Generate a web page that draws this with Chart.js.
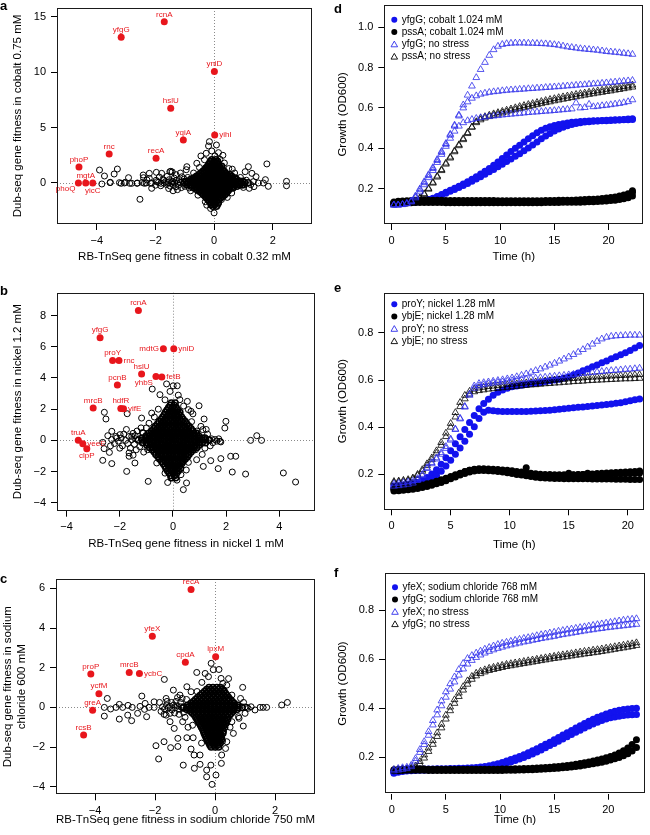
<!DOCTYPE html>
<html><head><meta charset="utf-8">
<script src="https://cdn.jsdelivr.net/npm/chart.js@4.4.1/dist/chart.umd.min.js"></script>
<style>
html,body{margin:0;padding:0;background:#fff}
#wrap{position:relative;width:650px;height:835px;overflow:hidden;background:#fff}
canvas{position:absolute}
.pl{position:absolute;font:bold 13px "Liberation Sans",Arial,sans-serif;line-height:13px;color:#000}
</style></head><body>
<div id="wrap">
<canvas id="cA" width="325" height="270" style="left:0;top:0"></canvas>
<canvas id="cB" width="325" height="285" style="left:0;top:270px"></canvas>
<canvas id="cC" width="325" height="280" style="left:0;top:555px"></canvas>
<canvas id="cD" width="325" height="270" style="left:325px;top:0"></canvas>
<canvas id="cE" width="325" height="285" style="left:325px;top:270px"></canvas>
<canvas id="cF" width="325" height="280" style="left:325px;top:555px"></canvas>
<div class="pl" style="left:0;top:-1px">a</div>
<div class="pl" style="left:0;top:284px">b</div>
<div class="pl" style="left:0;top:572px">c</div>
<div class="pl" style="left:334px;top:2px">d</div>
<div class="pl" style="left:334px;top:281px">e</div>
<div class="pl" style="left:334px;top:566px">f</div>
</div>
<script>
// ================= DATA =================
// ---- Panel a: cobalt ----
const cobaltHitGenes = ['rcnA','yfgG','yniD','hslU','yqiA','yihI','rnc','recA','phoP','mgtA','phoQ','yicC'];
const cobaltHitX = [-1.70,-3.17,0.01,-1.48,-1.05,0.02,-3.58,-1.98,-4.61,-4.38,-4.63,-4.14];
const cobaltHitY = [14.54,13.16,10.05,6.75,3.88,4.34,2.62,2.23,1.45,0.0,0.0,0.0];
const cobaltOther = [
[-3.91,1.17],[-3.74,0.63],[-3.83,-0.09],[-3.55,0.03],[-3.41,0.81],[-3.30,1.26],[-3.23,0.03],[-3.06,0.0],[-2.92,0.48],[-2.81,-0.03],[-2.62,0.0],[-2.53,-1.47],[-2.41,0.48],[-2.32,0.0],[-2.21,0.87],[-2.21,0.42],[-2.13,0.0],[-2.13,-0.48],[-1.98,0.24],[-1.87,0.54],[-1.79,0.87],[-1.71,0.0],[-2.45,0.05],[-2.0,-0.2],[-1.9,0.05],[-1.82,-0.25],[-2.42,0.72],
[-3.54,0.06],[-3.17,-0.03],[-3.03,0.06],[-2.88,-0.03],[-2.63,-0.03],[-2.38,-0.03],[-2.29,0.27],[-2.17,-0.03],[-1.97,0.96],[-1.95,0.12],[-1.81,-0.03],[-1.72,0.27],[-1.51,1.02],[-1.43,0.12],
[-1.66,0.12],[-1.62,-0.14],[-1.57,0.04],[-1.53,0.3],[-1.5,-0.28],[-1.46,0.0],[-1.42,0.16],[-1.4,-0.12],[-1.36,0.44],[-1.34,0.02],[-1.31,-0.34],[-1.29,0.22],[-1.25,-0.02],[-1.22,-0.2],[-1.19,0.3],[-1.15,0.06],[-1.12,-0.42],[-1.1,0.56],[-1.07,0.16],[-1.05,-0.1],[-1.02,0.36],[-1.0,-0.3],[-1.48,1.05],[-1.43,1.0],[-1.6,0.6],[-1.25,-0.6],[-1.15,0.9],[-0.95,1.2],[-0.93,1.47],[-0.59,1.78],[-1.3,0.75],[-1.55,-0.5],[-1.75,0.3],[-1.4,-0.7],
[0.9,0.5],[1.0,-0.4],[0.7,0.9],[0.6,-0.9],[-0.7,0.9],[-0.8,-0.7],[0.5,1.3],[-0.5,1.4],[0.45,-1.3],[-0.55,-1.1],[1.06,1.02],[1.17,1.47],[1.29,0.87],[1.43,0.57],[1.34,0.12],[1.51,0.0],[1.68,0.0],[1.36,-0.33],[1.2,-0.48],[1.8,1.72],[1.75,0.3],[1.85,-0.3],[2.47,0.15],[2.47,-0.25],
[-0.16,3.73],[0.08,3.43],[-0.19,3.34],[-0.08,2.89],[0.15,2.74],[-0.27,2.68],[0.03,2.44],[0.2,2.14],[-0.33,2.1],[0.3,2.5],[-0.45,2.44],[0.35,1.8],[0.0,-2.7],[0.15,-1.77],[-0.12,-2.3],[0.12,-2.0],[-0.3,-1.69],[0.25,-1.5],[-0.25,-2.0],[0.85,0.2],[1.1,0.25],[-0.9,0.5],[-0.85,-0.45],[0.95,-0.2],[1.25,-0.15],[0.62,1.25],[-0.62,0.25]
];
// dense core of panel a, listed row by row: [y, [x values]]
const cobaltCoreRows = [
[0.02,[-1.0,-0.88,-0.76,-0.64,-0.52,-0.4,-0.28,-0.16,-0.04,0.08,0.2,0.32,0.44,0.56,0.68,0.8,0.92,1.04,1.16]],
[0.15,[-0.94,-0.82,-0.7,-0.58,-0.46,-0.34,-0.22,-0.1,0.02,0.14,0.26,0.38,0.5,0.62,0.74,0.86,0.98]],
[-0.15,[-0.92,-0.8,-0.68,-0.56,-0.44,-0.32,-0.2,-0.08,0.04,0.16,0.28,0.4,0.52,0.64,0.76,0.88,1.0]],
[0.3,[-0.8,-0.68,-0.56,-0.44,-0.32,-0.2,-0.08,0.04,0.16,0.28,0.4,0.52,0.64,0.76]],
[-0.3,[-0.78,-0.66,-0.54,-0.42,-0.3,-0.18,-0.06,0.06,0.18,0.3,0.42,0.54,0.66,0.78]],
[0.45,[-0.7,-0.58,-0.46,-0.34,-0.22,-0.1,0.02,0.14,0.26,0.38,0.5,0.62,0.72]],
[-0.45,[-0.68,-0.56,-0.44,-0.32,-0.2,-0.08,0.04,0.16,0.28,0.4,0.52,0.64]],
[0.6,[-0.6,-0.48,-0.36,-0.24,-0.12,0,0.12,0.24,0.36,0.48,0.6]],
[-0.6,[-0.58,-0.46,-0.34,-0.22,-0.1,0.02,0.14,0.26,0.38,0.5]],
[0.75,[-0.52,-0.4,-0.28,-0.16,-0.04,0.08,0.2,0.32,0.44,0.54]],
[-0.75,[-0.5,-0.38,-0.26,-0.14,-0.02,0.1,0.22,0.34,0.46]],
[0.9,[-0.45,-0.33,-0.21,-0.09,0.03,0.15,0.27,0.39]],
[-0.9,[-0.42,-0.3,-0.18,-0.06,0.06,0.18,0.3,0.42]],
[1.05,[-0.38,-0.26,-0.14,-0.02,0.1,0.22,0.34]],
[-1.05,[-0.36,-0.24,-0.12,0.0,0.12,0.24,0.36]],
[1.2,[-0.32,-0.2,-0.08,0.04,0.16,0.28]],
[-1.2,[-0.3,-0.18,-0.06,0.06,0.18,0.3]],
[1.35,[-0.28,-0.16,-0.04,0.08,0.2]],
[-1.35,[-0.26,-0.14,-0.02,0.1,0.22]],
[1.5,[-0.22,-0.1,0.02,0.14,0.26]],
[-1.5,[-0.2,-0.08,0.04,0.16]],
[1.65,[-0.18,-0.06,0.06,0.16]],
[-1.65,[-0.16,-0.04,0.08]],
[1.8,[-0.14,-0.02,0.1]],
[-1.8,[-0.1,0.02,0.14]],
[1.95,[-0.12,0.0,0.12]],
[-1.95,[-0.1,0.02]],
[2.1,[-0.08,0.06]],
[-2.1,[-0.04,0.08]]
];

// ---- Panel b: nickel ----
const nickelHitGenes = ['rcnA','yfgG','mdtG','yniD','proY','rnc','hslU','yhbS','fetB','pcnB','mrcB','hdfR','yifE','truA','yeeE','clpP'];
const nickelHitX = [-1.30,-2.74,-0.36,0.03,-2.27,-2.03,-1.18,-0.64,-0.42,-2.09,-3.0,-1.96,-1.86,-3.56,-3.39,-3.24];
const nickelHitY = [8.33,6.58,5.88,5.88,5.13,5.13,4.26,4.1,4.06,3.55,2.07,2.05,2.03,0.0,-0.21,-0.53];
const nickelOther = [
[-2.3,0.05],[-2.2,-0.2],[-2.15,0.25],[-2.05,-0.05],[-1.95,0.15],[-1.9,-0.35],[-1.85,0.4],[-1.78,0.0],[-1.7,-0.2],[-1.65,0.25],[-1.6,-0.5],[-1.55,0.05],[-1.5,0.45],[-1.45,-0.25],[-1.4,0.1],[-1.38,-0.6],[-1.35,0.6],[-1.42,0.3],[-2.0,-0.5],[-2.35,-0.35],[-2.45,0.3],[-1.75,0.7],[-1.65,-0.8],[-1.5,-0.95],[-1.2,0.8],[-1.1,-0.75],[-1.25,-0.4],[-1.15,0.5],
[1.45,0.1],[1.5,-0.15],[1.58,0.05],[1.65,-0.05],[1.72,0.1],[1.8,-0.1],[1.4,-0.35],[1.3,0.4],[1.2,-0.5],[1.25,0.7],[1.1,-0.9],[1.05,0.9],
[-2.58,1.8],[-2.52,1.37],[-1.72,1.71],[-2.3,0.58],[-2.64,-0.13],[-2.59,-0.53],[-2.39,-0.77],[-2.3,-1.49],[-2.64,-1.28],[-1.74,-1.99],[-0.93,-2.63],[-1.43,-1.45],[-1.65,-1.02],[-2.12,0.15],[-1.99,0.37],[-1.55,0.26],[-1.12,0.47],[-1.18,1.43],[-0.8,1.75],[-0.78,3.29],[-0.24,3.62],[0.01,3.5],[0.16,3.5],[-0.49,2.93],[-0.11,3.14],[0.26,2.61],[0.54,2.5],[0.58,1.97],[0.98,2.22],[0.68,1.86],[0.75,1.7],[1.17,1.37],[1.12,0.69],[1.99,1.22],[1.95,0.79],[1.33,0.0],[1.77,-0.06],[2.92,0.0],[3.15,0.3],[3.33,0.0],[0.89,-1.24],[1.14,-1.67],[1.42,-1.3],[1.7,-1.81],[2.17,-1.02],[2.36,-1.02],[1.8,-1.17],[2.23,-2.03],[2.73,-2.16],[4.15,-2.09],[4.61,-2.67],[0.39,-3.16],[0.51,-2.73],[-0.08,-2.41],[0.58,-1.41],[0.38,-0.79],[-0.61,-1.45],[-0.5,-0.92],
[-0.9,1.1],[-0.7,1.5],[-0.55,2.0],[0.5,-1.9],[0.3,-2.2],[-0.3,-2.1],[0.7,1.2],[0.85,-0.6],[-0.95,-0.6],[-1.0,0.8],[0.9,0.6],[0.4,2.2],[-0.3,2.6],[0.2,2.9],[-0.2,-2.7],[0.15,-2.55]
];
const nickelCoreRows = [
[0.02,[-1.3,-1.16,-1.02,-0.88,-0.74,-0.6,-0.46,-0.32,-0.18,-0.04,0.1,0.24,0.38,0.52,0.66,0.8,0.94,1.08,1.22,1.36]],
[0.15,[-1.16,-1.02,-0.88,-0.74,-0.6,-0.46,-0.32,-0.18,-0.04,0.1,0.24,0.38,0.52,0.66,0.8,0.94,1.08,1.2]],
[-0.15,[-1.14,-1.0,-0.86,-0.72,-0.58,-0.44,-0.3,-0.16,-0.02,0.12,0.26,0.4,0.54,0.68,0.82,0.96,1.1,1.22]],
[0.3,[-1.0,-0.86,-0.72,-0.58,-0.44,-0.3,-0.16,-0.02,0.12,0.26,0.4,0.54,0.68,0.82,0.96]],
[-0.3,[-0.98,-0.84,-0.7,-0.56,-0.42,-0.28,-0.14,0.0,0.14,0.28,0.42,0.56,0.7,0.84,0.98]],
[0.45,[-0.9,-0.76,-0.62,-0.48,-0.34,-0.2,-0.06,0.08,0.22,0.36,0.5,0.64,0.78,0.88]],
[-0.45,[-0.88,-0.74,-0.6,-0.46,-0.32,-0.18,-0.04,0.1,0.24,0.38,0.52,0.66,0.8,0.9]],
[0.6,[-0.8,-0.66,-0.52,-0.38,-0.24,-0.1,0.04,0.18,0.32,0.46,0.6,0.74]],
[-0.6,[-0.78,-0.64,-0.5,-0.36,-0.22,-0.08,0.06,0.2,0.34,0.48,0.62,0.76]],
[0.75,[-0.72,-0.58,-0.44,-0.3,-0.16,-0.02,0.12,0.26,0.4,0.54,0.68]],
[-0.75,[-0.7,-0.56,-0.42,-0.28,-0.14,0.0,0.14,0.28,0.42,0.56,0.68]],
[0.9,[-0.66,-0.52,-0.38,-0.24,-0.1,0.04,0.18,0.32,0.46,0.6]],
[-0.9,[-0.64,-0.5,-0.36,-0.22,-0.08,0.06,0.2,0.34,0.48,0.6]],
[1.05,[-0.58,-0.44,-0.3,-0.16,-0.02,0.12,0.26,0.4,0.52]],
[-1.05,[-0.56,-0.42,-0.28,-0.14,0.0,0.14,0.28,0.42,0.54]],
[1.2,[-0.52,-0.38,-0.24,-0.1,0.04,0.18,0.32,0.46]],
[-1.2,[-0.5,-0.36,-0.22,-0.08,0.06,0.2,0.34,0.46]],
[1.35,[-0.44,-0.3,-0.16,-0.02,0.12,0.26,0.38]],
[-1.35,[-0.42,-0.28,-0.14,0.0,0.14,0.28,0.38]],
[1.5,[-0.38,-0.24,-0.1,0.04,0.18,0.32]],
[-1.5,[-0.36,-0.22,-0.08,0.06,0.2,0.32]],
[1.65,[-0.32,-0.18,-0.04,0.1,0.22]],
[-1.65,[-0.3,-0.16,-0.02,0.12,0.24]],
[1.8,[-0.28,-0.14,0.0,0.14,0.26]],
[-1.8,[-0.26,-0.12,0.02,0.16,0.28]],
[1.95,[-0.22,-0.08,0.06,0.18]],
[-1.95,[-0.2,-0.06,0.08,0.2]],
[2.1,[-0.16,-0.02,0.12]],
[-2.1,[-0.14,0.0,0.14]],
[2.25,[-0.1,0.04]],
[-2.25,[-0.08,0.06]],
[2.4,[-0.06,0.08]],
[-2.4,[-0.04,0.1]]
];

// ---- Panel c: sodium chloride ----
const saltHitGenes = ['recA','yfeX','cpdA','lpxM','proP','mrcB','ycbC','ycfM','greA','rcsB'];
const saltHitX = [-0.8,-2.09,-0.99,0.02,-4.14,-2.86,-2.52,-3.87,-4.08,-4.38];
const saltHitY = [5.94,3.59,2.27,2.55,1.68,1.76,1.71,0.69,-0.14,-1.39];
const saltOther = [
[-1.75,0.02],[-1.68,-0.08],[-1.62,0.1],[-1.56,-0.03],[-1.5,0.05],[-1.44,-0.12],[-1.38,0.12],[-1.32,-0.02],[-1.26,0.08],[-1.2,-0.1],[-1.14,0.03],[-1.08,-0.05],[-1.6,0.3],[-1.45,0.25],[-1.3,0.3],[-1.15,0.25],[-1.5,-0.3],[-1.35,-0.28],[-1.2,-0.35],[-1.05,-0.25],[-1.7,-0.35],[-1.25,0.5],[-1.1,0.45],[-0.95,0.4],[-1.0,-0.5],[-1.85,0.25],[-1.8,-0.2],
[1.0,0.02],[1.1,-0.05],[1.2,0.03],[1.5,0.0],[1.6,0.0],[1.72,0.0],[0.95,0.25],[1.0,-0.3],[0.85,0.45],[0.8,-0.55],
[-3.59,0.45],[-3.69,0.0],[-3.69,-0.44],[-3.48,-0.08],[-3.19,0.15],[-3.19,-0.59],[-3.08,0.0],[-2.91,-0.39],[-2.78,-0.67],[-2.76,0.0],[-2.58,-0.3],[-2.44,0.57],[-2.33,0.2],[-2.28,-0.47],[-2.2,0.0],[-2.03,0.28],[-2.03,0.0],[-1.97,-1.93],[-1.7,-1.73],[-1.88,-2.6],[-1.48,-2.03],[-1.24,-1.56],[-1.24,-1.97],[-1.06,-2.91],[-0.69,-3.07],[-0.5,-2.87],[-0.28,-3.16],[-0.14,-2.91],[-0.28,-3.5],[-0.1,-3.88],[0.03,-3.41],[-0.5,-2.4],[-0.7,-2.4],[-0.8,-2.1],[-0.94,-1.53],[-0.73,-1.53],[-1.69,1.41],[-1.63,0.45],[-1.63,-0.39],[-1.5,-0.72],[-1.39,0.87],[-1.36,-1.06],[-1.17,0.62],[-1.08,-0.72],[-0.94,1.04],[-0.8,0.79],[-0.61,1.76],[-0.44,1.26],[-0.33,1.71],[-0.22,1.55],[-0.13,2.22],[-0.06,1.9],[0.13,1.91],[0.2,1.46],[0.26,1.21],[0.3,0.87],[0.39,1.12],[0.56,0.62],[0.92,1.01],[0.56,-0.72],[0.78,-0.47],[0.94,-0.94],[0.61,-1.31],[0.39,-1.73],[0.35,-2.07],[0.22,-2.4],[0.21,-2.82],[1.06,0.0],[1.33,-0.13],[2.22,0.12],[2.41,0.25],[-2.9,0.1],[-3.3,0.0],[-2.5,0.05],[-2.35,-0.1],[-0.9,-1.0],[-0.75,-0.9],[0.5,-1.0],[-0.6,0.8],[0.45,1.45],[-0.45,-1.8],[0.25,-1.7]
];
const saltCoreRows = [
[1.0,[-0.2,-0.07,0.06,0.18]],
[0.9,[-0.28,-0.15,-0.02,0.11,0.24]],
[0.8,[-0.35,-0.22,-0.09,0.04,0.17,0.3]],
[0.7,[-0.43,-0.3,-0.17,-0.04,0.09,0.22,0.35]],
[0.6,[-0.5,-0.37,-0.24,-0.11,0.02,0.15,0.28,0.4]],
[0.5,[-0.58,-0.45,-0.32,-0.19,-0.06,0.07,0.2,0.33,0.45]],
[0.4,[-0.65,-0.52,-0.39,-0.26,-0.13,0,0.13,0.26,0.39,0.5]],
[0.3,[-0.72,-0.59,-0.46,-0.33,-0.2,-0.07,0.06,0.19,0.32,0.45,0.57]],
[0.2,[-0.8,-0.67,-0.54,-0.41,-0.28,-0.15,-0.02,0.11,0.24,0.37,0.5,0.63]],
[0.1,[-0.92,-0.79,-0.66,-0.53,-0.4,-0.27,-0.14,-0.01,0.12,0.25,0.38,0.51,0.64,0.76]],
[0.0,[-1.05,-0.92,-0.79,-0.66,-0.53,-0.4,-0.27,-0.14,-0.01,0.12,0.25,0.38,0.51,0.64,0.77,0.9]],
[-0.1,[-0.95,-0.82,-0.69,-0.56,-0.43,-0.3,-0.17,-0.04,0.09,0.22,0.35,0.48,0.61,0.74]],
[-0.2,[-0.82,-0.69,-0.56,-0.43,-0.3,-0.17,-0.04,0.09,0.22,0.35,0.48,0.6]],
[-0.3,[-0.75,-0.62,-0.49,-0.36,-0.23,-0.1,0.03,0.16,0.29,0.42,0.54]],
[-0.4,[-0.68,-0.55,-0.42,-0.29,-0.16,-0.03,0.1,0.23,0.36,0.48]],
[-0.5,[-0.64,-0.51,-0.38,-0.25,-0.12,0.01,0.14,0.27,0.4]],
[-0.6,[-0.6,-0.47,-0.34,-0.21,-0.08,0.05,0.18,0.31,0.42]],
[-0.7,[-0.56,-0.43,-0.3,-0.17,-0.04,0.09,0.22,0.35]],
[-0.8,[-0.52,-0.39,-0.26,-0.13,0,0.13,0.26,0.36]],
[-0.9,[-0.48,-0.35,-0.22,-0.09,0.04,0.17,0.3]],
[-1.0,[-0.45,-0.32,-0.19,-0.06,0.07,0.2,0.32]],
[-1.1,[-0.41,-0.28,-0.15,-0.02,0.11,0.24]],
[-1.2,[-0.38,-0.25,-0.12,0.01,0.14,0.27]],
[-1.3,[-0.36,-0.23,-0.1,0.03,0.16,0.26]],
[-1.4,[-0.33,-0.2,-0.07,0.06,0.19]],
[-1.5,[-0.3,-0.17,-0.04,0.09,0.2]],
[-1.6,[-0.27,-0.14,-0.01,0.12,0.22]],
[-1.7,[-0.24,-0.11,0.02,0.15]],
[-1.8,[-0.2,-0.07,0.06,0.17]],
[-1.9,[-0.17,-0.04,0.09]],
[-2.0,[-0.13,0.0,0.12]]
];

// ---- Panel d: cobalt growth curves (time h, OD600) ----
const timeD = [0.2,0.6,1.0,1.4,1.8,2.2,2.6,3.0,3.4,3.8,4.2,4.6,5.0,5.4,5.8,6.2,6.6,7.0,7.4,7.8,8.2,8.6,9.0,9.4,9.8,10.2,10.6,11.0,11.4,11.8,12.2,12.6,13.0,13.4,13.8,14.2,14.6,15.0,15.4,15.8,16.2,16.6,17.0,17.4,17.8,18.2,18.6,19.0,19.4,19.8,20.2,20.6,21.0,21.4,21.8,22.2];
const yfgGCobaltA = [0.13,0.13,0.131,0.132,0.133,0.135,0.138,0.142, 0.147,0.153,0.162,0.172,0.183,0.193,0.203,0.213, 0.224,0.235,0.247,0.26,0.273,0.287,0.301,0.316, 0.333,0.35,0.367,0.384,0.4,0.416,0.432,0.448, 0.463,0.477,0.489,0.499,0.507,0.513,0.518,0.522, 0.526,0.529,0.531,0.533,0.534,0.535,0.536,0.537, 0.538,0.539,0.54,0.541,0.542,0.543,0.545,0.547];
const yfgGCobaltB = [0.13,0.13,0.13,0.131,0.132,0.134,0.137,0.141, 0.145,0.151,0.159,0.168,0.178,0.188,0.197,0.206, 0.216,0.226,0.237,0.248,0.26,0.272,0.284,0.296, 0.309,0.322,0.335,0.348,0.361,0.374,0.388,0.402, 0.417,0.432,0.447,0.461,0.474,0.486,0.496,0.505, 0.512,0.518,0.523,0.527,0.53,0.532,0.534,0.535, 0.536,0.537,0.538,0.539,0.54,0.541,0.542,0.543];
const pssACobaltA = [0.13,0.132,0.134,0.136,0.137,0.138,0.138,0.138, 0.138,0.138,0.138,0.138,0.137,0.137,0.137,0.137, 0.137,0.137,0.137,0.136,0.136,0.136,0.136,0.136, 0.136,0.136,0.136,0.136,0.136,0.136,0.136,0.136, 0.136,0.137,0.137,0.137,0.137,0.138,0.138,0.138, 0.139,0.139,0.14,0.141,0.142,0.142,0.143,0.145, 0.146,0.148,0.15,0.153,0.156,0.161,0.168,0.182];
const pssACobaltB = [0.125,0.127,0.129,0.13,0.131,0.132,0.132,0.132, 0.132,0.132,0.132,0.132,0.131,0.131,0.131,0.131, 0.131,0.131,0.131,0.131,0.131,0.131,0.131,0.131, 0.131,0.131,0.131,0.131,0.131,0.131,0.131,0.131, 0.131,0.131,0.131,0.132,0.132,0.132,0.132,0.133, 0.133,0.133,0.134,0.134,0.135,0.136,0.136,0.137, 0.138,0.14,0.142,0.144,0.147,0.151,0.156,0.164];
const pssACobaltC = [0.135,0.138,0.14,0.141,0.142,0.143,0.143,0.143, 0.143,0.143,0.143,0.143,0.142,0.142,0.142,0.142, 0.142,0.142,0.142,0.142,0.142,0.142,0.142,0.142, 0.141,0.141,0.141,0.141,0.141,0.141,0.141,0.141, 0.141,0.141,0.141,0.142,0.142,0.142,0.143,0.143, 0.144,0.144,0.145,0.146,0.147,0.148,0.149,0.15, 0.152,0.154,0.157,0.16,0.164,0.169,0.176,0.19];
const yfgGNoStressDA = [0.12,0.12,0.122,0.128,0.14,0.165,0.2,0.235, 0.27,0.305,0.345,0.385,0.424,0.47,0.515,0.565, 0.615,0.663,0.708,0.75,0.79,0.825,0.86,0.888, 0.905,0.914,0.918,0.92,0.921,0.921,0.921,0.92, 0.92,0.919,0.918,0.917,0.915,0.913,0.91,0.906, 0.902,0.899,0.896,0.893,0.891,0.889,0.887,0.885, 0.882,0.879,0.877,0.875,0.873,0.87,0.868,0.865];
const yfgGNoStressDB = [0.12,0.12,0.122,0.127,0.138,0.16,0.195,0.23, 0.265,0.3,0.34,0.38,0.42,0.465,0.51,0.56, 0.6,0.63,0.648,0.66,0.668,0.673,0.677,0.68, 0.682,0.685,0.687,0.689,0.69,0.692,0.693,0.695, 0.696,0.698,0.699,0.701,0.702,0.704,0.705,0.707, 0.709,0.71,0.712,0.714,0.715,0.717,0.719,0.72, 0.722,0.724,0.726,0.728,0.73,0.732,0.734,0.736];
const yfgGNoStressDC = [0.12,0.12,0.122,0.126,0.135,0.155,0.185,0.22, 0.255,0.29,0.33,0.37,0.41,0.45,0.485,0.51, 0.527,0.537,0.543,0.548,0.552,0.555,0.558,0.56, 0.562,0.565,0.567,0.569,0.571,0.573,0.575,0.577, 0.579,0.58,0.582,0.584,0.585,0.587,0.589,0.591, 0.593,0.595,0.625,0.6,0.602,0.618,0.606,0.608, 0.611,0.613,0.616,0.619,0.622,0.626,0.631,0.64];
const pssANoStressA = [0.125,0.125,0.127,0.128,0.13,0.138,0.152,0.172, 0.198,0.228,0.258,0.29,0.322,0.352,0.383,0.413, 0.443,0.473,0.505,0.532,0.549,0.557,0.564,0.571, 0.577,0.583,0.589,0.595,0.601,0.607,0.612,0.617, 0.622,0.627,0.632,0.637,0.642,0.646,0.651,0.655, 0.659,0.663,0.667,0.671,0.674,0.678,0.681,0.685, 0.688,0.692,0.695,0.699,0.702,0.706,0.709,0.713];
const pssANoStressB = [0.13,0.13,0.13,0.131,0.133,0.14,0.155,0.176, 0.202,0.232,0.263,0.295,0.327,0.357,0.388,0.418, 0.448,0.478,0.505,0.527,0.541,0.55,0.557,0.563, 0.569,0.575,0.58,0.586,0.591,0.596,0.601,0.606, 0.611,0.616,0.621,0.626,0.63,0.635,0.639,0.643, 0.647,0.651,0.655,0.659,0.663,0.667,0.67,0.674, 0.677,0.681,0.684,0.688,0.691,0.695,0.699,0.703];
const cobaltLegend = ['yfgG; cobalt 1.024 mM','pssA; cobalt 1.024 mM','yfgG; no stress','pssA; no stress'];

// ---- Panel e: nickel growth curves ----
const timeE = [0.2,0.6,1.0,1.4,1.8,2.2,2.6,3.0,3.4,3.8,4.2,4.6,5.0,5.4,5.8,6.2,6.6,7.0,7.4,7.8,8.2,8.6,9.0,9.4,9.8,10.2,10.6,11.0,11.4,11.8,12.2,12.6,13.0,13.4,13.8,14.2,14.6,15.0,15.4,15.8,16.2,16.6,17.0,17.4,17.8,18.2,18.6,19.0,19.4,19.8,20.2,20.6,21.0];
const proYNickelA = [0.14,0.141,0.143,0.145,0.148,0.152,0.158,0.167, 0.18,0.195,0.213,0.235,0.26,0.285,0.312,0.34, 0.37,0.402,0.437,0.463,0.472,0.47,0.468,0.467, 0.466,0.466,0.466,0.467,0.467,0.468,0.469,0.47, 0.471,0.472,0.474,0.476,0.478,0.48,0.482,0.484, 0.486,0.488,0.49,0.492,0.494,0.496,0.498,0.501, 0.504,0.508,0.512,0.516,0.52];
const proYNickelB = [0.15,0.151,0.153,0.156,0.16,0.166,0.175,0.187, 0.202,0.22,0.243,0.27,0.3,0.33,0.36,0.39, 0.42,0.45,0.478,0.5,0.518,0.535,0.548,0.558, 0.565,0.571,0.575,0.578,0.581,0.584,0.586,0.588, 0.594,0.597,0.6,0.603,0.608,0.614,0.622,0.63, 0.639,0.647,0.656,0.664,0.673,0.681,0.69,0.699, 0.707,0.716,0.725,0.736,0.746];
const ybjENickelA = [0.135,0.137,0.139,0.141,0.143,0.146,0.15,0.155, 0.16,0.166,0.172,0.179,0.187,0.195,0.203,0.211, 0.217,0.22,0.221,0.221,0.22,0.219,0.217,0.215, 0.212,0.209,0.206,0.203,0.228,0.198,0.196,0.195, 0.194,0.193,0.193,0.194,0.195,0.196,0.197,0.198, 0.2,0.205,0.202,0.204,0.205,0.206,0.207,0.208, 0.209,0.21,0.211,0.212,0.214];
const ybjENickelB = [0.13,0.131,0.133,0.135,0.137,0.14,0.144,0.149, 0.154,0.16,0.166,0.173,0.181,0.189,0.197,0.204, 0.21,0.214,0.216,0.216,0.215,0.214,0.212,0.21, 0.207,0.204,0.2,0.197,0.194,0.191,0.188,0.186, 0.185,0.184,0.183,0.183,0.182,0.182,0.182,0.181, 0.181,0.181,0.18,0.18,0.18,0.18,0.18,0.179, 0.179,0.179,0.178,0.178,0.178];
const ybjENickelC = [0.14,0.141,0.143,0.145,0.148,0.151,0.155,0.16, 0.165,0.171,0.177,0.184,0.191,0.198,0.205,0.212, 0.218,0.222,0.224,0.224,0.223,0.222,0.221,0.219, 0.217,0.215,0.212,0.21,0.207,0.205,0.203,0.201, 0.2,0.199,0.198,0.198,0.198,0.205,0.198,0.199, 0.199,0.2,0.2,0.201,0.201,0.202,0.202,0.203, 0.203,0.204,0.204,0.205,0.206];
const proYNoStressA = [0.15,0.152,0.155,0.158,0.163,0.175,0.195,0.225, 0.245,0.265,0.285,0.31,0.345,0.39,0.435,0.485, 0.54,0.575,0.585,0.589,0.592,0.595,0.598,0.601, 0.605,0.609,0.614,0.62,0.626,0.633,0.64,0.647, 0.655,0.663,0.671,0.68,0.689,0.698,0.708,0.718, 0.729,0.74,0.752,0.764,0.774,0.781,0.785,0.787, 0.788,0.789,0.79,0.79,0.79];
const proYNoStressB = [0.16,0.162,0.165,0.168,0.172,0.182,0.2,0.228, 0.25,0.27,0.292,0.318,0.35,0.392,0.438,0.488, 0.535,0.565,0.575,0.58,0.584,0.587,0.59,0.592, 0.595,0.597,0.6,0.602,0.604,0.606,0.608,0.61, 0.612,0.614,0.616,0.618,0.62,0.622,0.624,0.626, 0.628,0.63,0.632,0.634,0.636,0.638,0.64,0.641, 0.643,0.645,0.646,0.648,0.65];
const ybjENoStressA = [0.17,0.172,0.175,0.178,0.185,0.2,0.22,0.245, 0.27,0.3,0.335,0.375,0.416,0.462,0.505,0.535, 0.552,0.561,0.566,0.569,0.572,0.574,0.576,0.578, 0.58,0.582,0.584,0.586,0.588,0.59,0.592,0.594, 0.596,0.598,0.6,0.601,0.603,0.605,0.606,0.608, 0.609,0.611,0.612,0.613,0.614,0.616,0.617,0.618, 0.619,0.62,0.621,0.622,0.623];
const ybjENoStressB = [0.165,0.167,0.17,0.173,0.18,0.195,0.213,0.237, 0.262,0.29,0.323,0.36,0.4,0.443,0.487,0.52, 0.54,0.55,0.555,0.558,0.561,0.563,0.565,0.567, 0.569,0.571,0.573,0.575,0.577,0.579,0.58,0.582, 0.584,0.585,0.587,0.588,0.59,0.591,0.593,0.594, 0.595,0.597,0.598,0.599,0.6,0.601,0.602,0.603, 0.604,0.605,0.605,0.606,0.607];
const nickelLegend = ['proY; nickel 1.28 mM','ybjE; nickel 1.28 mM','proY; no stress','ybjE; no stress'];

// ---- Panel f: sodium chloride growth curves ----
const timeF = [0.2,0.6,1.0,1.4,1.8,2.2,2.6,3.0,3.4,3.8,4.2,4.6,5.0,5.4,5.8,6.2,6.6,7.0,7.4,7.8,8.2,8.6,9.0,9.4,9.8,10.2,10.6,11.0,11.4,11.8,12.2,12.6,13.0,13.4,13.8,14.2,14.6,15.0,15.4,15.8,16.2,16.6,17.0,17.4,17.8,18.2,18.6,19.0,19.4,19.8,20.2,20.6,21.0,21.4,21.8,22.2,22.6];
const yfeXSaltA = [0.14,0.144,0.147,0.149,0.151,0.152,0.153,0.153, 0.153,0.153,0.154,0.154,0.154,0.155,0.155,0.156, 0.156,0.157,0.158,0.159,0.161,0.163,0.166,0.17, 0.174,0.179,0.185,0.191,0.197,0.204,0.211,0.219, 0.227,0.235,0.244,0.253,0.262,0.272,0.281,0.291, 0.3,0.31,0.32,0.329,0.338,0.347,0.355,0.363, 0.37,0.377,0.383,0.388,0.392,0.395,0.397,0.399, 0.4];
const yfeXSaltB = [0.135,0.139,0.142,0.144,0.146,0.147,0.148,0.148, 0.149,0.149,0.15,0.15,0.15,0.151,0.151,0.152, 0.152,0.153,0.154,0.155,0.156,0.158,0.16,0.163, 0.167,0.171,0.176,0.181,0.187,0.193,0.2,0.207, 0.214,0.222,0.23,0.239,0.248,0.257,0.266,0.275, 0.284,0.293,0.302,0.311,0.32,0.328,0.336,0.343, 0.35,0.356,0.361,0.365,0.368,0.371,0.373,0.374, 0.375];
const yfgGSaltA = [0.15,0.151,0.152,0.153,0.153,0.153,0.153,0.153, 0.152,0.152,0.152,0.152,0.152,0.152,0.152,0.152, 0.152,0.152,0.152,0.152,0.152,0.152,0.152,0.152, 0.152,0.153,0.153,0.153,0.154,0.154,0.155,0.155, 0.156,0.157,0.158,0.159,0.16,0.162,0.163,0.165, 0.167,0.169,0.172,0.175,0.178,0.181,0.185,0.189, 0.193,0.198,0.204,0.21,0.218,0.227,0.238,0.252, 0.272];
const yfgGSaltB = [0.145,0.146,0.147,0.148,0.148,0.148,0.148,0.148, 0.147,0.147,0.147,0.147,0.147,0.147,0.147,0.147, 0.147,0.147,0.147,0.147,0.147,0.147,0.147,0.147, 0.147,0.147,0.148,0.148,0.148,0.149,0.149,0.15, 0.15,0.151,0.152,0.153,0.154,0.155,0.156,0.158, 0.159,0.161,0.163,0.165,0.168,0.171,0.174,0.177, 0.18,0.184,0.189,0.194,0.2,0.207,0.215,0.226, 0.24];
const yfeXNoStressA = [0.15,0.155,0.158,0.16,0.168,0.195,0.232,0.264, 0.305,0.35,0.393,0.43,0.467,0.5,0.528,0.558, 0.583,0.603,0.615,0.625,0.633,0.641,0.648,0.654, 0.66,0.665,0.669,0.673,0.677,0.681,0.685,0.688, 0.692,0.696,0.7,0.703,0.707,0.71,0.714,0.717, 0.72,0.723,0.726,0.729,0.732,0.735,0.738,0.741, 0.744,0.747,0.75,0.753,0.756,0.759,0.761,0.763, 0.765];
const yfeXNoStressB = [0.145,0.148,0.151,0.154,0.162,0.185,0.22,0.252, 0.29,0.332,0.373,0.41,0.445,0.478,0.507,0.535, 0.56,0.58,0.595,0.607,0.617,0.625,0.632,0.638, 0.644,0.649,0.654,0.658,0.662,0.666,0.67,0.673, 0.677,0.68,0.684,0.687,0.69,0.693,0.697,0.7, 0.703,0.706,0.709,0.712,0.715,0.718,0.72,0.723, 0.725,0.728,0.73,0.732,0.734,0.736,0.738,0.74, 0.742];
const yfgGNoStressFA = [0.15,0.151,0.152,0.153,0.156,0.165,0.183,0.21, 0.238,0.268,0.3,0.335,0.372,0.405,0.435,0.462, 0.488,0.512,0.53,0.543,0.551,0.557,0.563,0.567, 0.571,0.575,0.579,0.582,0.585,0.588,0.591,0.594, 0.597,0.6,0.603,0.606,0.609,0.612,0.615,0.618, 0.62,0.623,0.626,0.629,0.632,0.634,0.637,0.639, 0.642,0.645,0.648,0.651,0.654,0.657,0.66,0.663, 0.667];
const yfgGNoStressFB = [0.145,0.146,0.147,0.148,0.151,0.158,0.173,0.197, 0.224,0.253,0.285,0.32,0.356,0.39,0.42,0.448, 0.474,0.498,0.518,0.532,0.541,0.548,0.554,0.558, 0.562,0.566,0.57,0.573,0.576,0.579,0.582,0.585, 0.588,0.591,0.594,0.597,0.6,0.603,0.605,0.608, 0.61,0.613,0.616,0.618,0.621,0.623,0.626,0.628, 0.631,0.634,0.637,0.64,0.643,0.646,0.649,0.652, 0.656];
const saltLegend = ['yfeX; sodium chloride 768 mM','yfgG; sodium chloride 768 mM','yfeX; no stress','yfgG; no stress'];

// ================= STYLE / HELPERS =================
const FONT = '"Liberation Sans", Arial, Helvetica, sans-serif';
Chart.defaults.font.family = FONT;
Chart.defaults.color = '#000';
const RED = 'rgb(232,22,28)';
const BLUE = 'rgb(18,18,238)';
const BLUE_T = 'rgb(45,45,235)';
const extras = {};

function minusFmt(v) { return v < 0 ? '\u2212' + Math.abs(v) : String(v); }
function oneDec(v) { return Number(v).toFixed(1); }
function pairs(arr) { return arr.map(p => ({x: p[0], y: p[1]})); }
function rowsToPoints(rows) { const out = []; rows.forEach(r => r[1].forEach(x => out.push({x: x, y: r[0]}))); return out; }
function zipXY(xs, ys) { const out = []; for (let i = 0; i < xs.length && i < ys.length; i++) out.push({x: xs[i], y: ys[i]}); return out; }

function drawMark(ctx, style, r, x, y, color, filled) {
  ctx.save();
  ctx.fillStyle = filled ? color : 'rgba(0,0,0,0)';
  ctx.strokeStyle = color;
  ctx.lineWidth = 0.9;
  if (Chart.helpers && Chart.helpers.drawPoint) {
    Chart.helpers.drawPoint(ctx, {pointStyle: style, radius: r, borderWidth: filled ? 0 : 0.9, rotation: 0}, x, y);
  } else {
    ctx.beginPath();
    if (style === 'triangle') {
      ctx.moveTo(x, y - r); ctx.lineTo(x + r * 0.866, y + r * 0.5); ctx.lineTo(x - r * 0.866, y + r * 0.5); ctx.closePath();
    } else { ctx.arc(x, y, r, 0, Math.PI * 2); }
    if (filled) ctx.fill(); else ctx.stroke();
  }
  ctx.restore();
}

const framePlugin = {
  id: 'frame',
  beforeDatasetsDraw(chart) {
    const ex = extras[chart.canvas.id];
    if (!ex || !ex.zero) return;
    const {ctx, chartArea: a, scales} = chart;
    const x0 = Math.round(scales.x.getPixelForValue(0)) + 0.5;
    const y0 = Math.round(scales.y.getPixelForValue(0)) + 0.5;
    ctx.save();
    ctx.strokeStyle = '#8a8a8a'; ctx.lineWidth = 1; ctx.setLineDash([1, 2]);
    ctx.beginPath();
    ctx.moveTo(x0, a.top); ctx.lineTo(x0, a.bottom);
    ctx.moveTo(a.left, y0); ctx.lineTo(a.right, y0);
    ctx.stroke();
    ctx.restore();
  },
  afterDraw(chart) {
    const {ctx, chartArea: a} = chart;
    ctx.save();
    ctx.strokeStyle = '#1a1a1a'; ctx.lineWidth = 1;
    ctx.strokeRect(Math.round(a.left) + 0.5, Math.round(a.top) + 0.5, Math.round(a.right - a.left) - 1, Math.round(a.bottom - a.top) - 1);
    ctx.restore();
  }
};

const labelPlugin = {
  id: 'geneLabels',
  afterDatasetsDraw(chart) {
    const ex = extras[chart.canvas.id];
    if (!ex || !ex.names) return;
    const meta = chart.getDatasetMeta(0);
    const ctx = chart.ctx;
    ctx.save();
    ctx.font = '8px ' + FONT;
    ctx.fillStyle = RED;
    ctx.textBaseline = 'middle';
    meta.data.forEach((el, i) => {
      const p = ex.place[i] || 't';
      let x = el.x, y = el.y, align = 'center';
      if (p === 't') y -= 7.5;
      else if (p === 'b') y += 7.5;
      else if (p === 'r') { x += 4.5; align = 'left'; }
      else if (p === 'l') { x -= 4.5; align = 'right'; }
      else if (p === 'lb') { x -= 3; y += 6; align = 'right'; }
      ctx.textAlign = align;
      ctx.fillText(ex.names[i], x, y);
    });
    ctx.restore();
  }
};

const legendPlugin = {
  id: 'growthLegend',
  afterDraw(chart) {
    const ex = extras[chart.canvas.id];
    if (!ex || !ex.legend) return;
    const {ctx, chartArea: a} = chart;
    const marks = [['circle', 3, BLUE, true], ['circle', 3, '#000', true], ['triangle', 3.8, BLUE_T, false], ['triangle', 3.8, '#000', false]];
    ex.legend.forEach((txt, i) => {
      const y = a.top + ex.legTop + i * 12.3;
      const m = marks[i];
      drawMark(ctx, m[0], m[1], a.left + 10, y + (m[0] === 'triangle' ? 0.5 : 0), m[2], m[3]);
      ctx.save();
      ctx.font = '10px ' + FONT; ctx.fillStyle = '#000'; ctx.textAlign = 'left'; ctx.textBaseline = 'middle';
      ctx.fillText(txt, a.left + 17.5, y);
      ctx.restore();
    });
  }
};

function axisCfg(a, horiz) {
  return {
    type: 'linear', position: horiz ? 'bottom' : 'left', min: a.min, max: a.max,
    border: {display: false},
    grid: {display: true, drawOnChartArea: false, drawTicks: true, tickLength: 6, tickColor: '#000', tickWidth: 1, color: '#000'},
    ticks: {stepSize: a.step, includeBounds: false, autoSkip: false, maxRotation: 0, minRotation: 0,
            padding: horiz ? 4 : 5, color: '#000', font: {size: 11}, callback: a.fmt},
    title: {display: true, text: a.title, color: '#000', font: {size: 11.5},
            padding: horiz ? {top: 0, bottom: a.tpad} : {top: a.tpad, bottom: 0}},
    afterFit: horiz
      ? (s => { s.height = a.size; s.paddingLeft = 0; s.paddingRight = 0; })
      : (s => { s.width = a.size; s.paddingTop = 0; s.paddingBottom = 0; })
  };
}

function makeChart(id, datasets, o) {
  return new Chart(document.getElementById(id), {
    type: 'scatter',
    data: {datasets: datasets},
    options: {
      responsive: false, animation: false, devicePixelRatio: 1, events: [],
      layout: {padding: o.pad},
      plugins: {legend: {display: false}, tooltip: {enabled: false}},
      scales: {x: axisCfg(o.x, true), y: axisCfg(o.y, false)}
    },
    plugins: [framePlugin, labelPlugin, legendPlugin]
  });
}

function scatterSets(hx, hy, other, coreRows) {
  return [
    {data: zipXY(hx, hy), pointStyle: 'circle', pointRadius: 3.5, pointBackgroundColor: RED, pointBorderWidth: 0, order: 0},
    {data: pairs(other), pointStyle: 'circle', pointRadius: 3, pointBackgroundColor: 'rgba(0,0,0,0)', pointBorderColor: '#000', pointBorderWidth: 1, order: 1},
    {data: rowsToPoints(coreRows), pointStyle: 'circle', pointRadius: 3, pointBackgroundColor: 'rgba(0,0,0,0)', pointBorderColor: '#000', pointBorderWidth: 1.6, order: 2}
  ];
}
function dotSet(t, v, color) {
  return {data: zipXY(t, v), pointStyle: 'circle', pointRadius: 3.5, pointBackgroundColor: color, pointBorderWidth: 0, order: 2};
}
function triSet(t, v, color) {
  return {data: zipXY(t, v), pointStyle: 'triangle', pointRadius: 3.9, pointBackgroundColor: 'rgba(0,0,0,0)', pointBorderColor: color, pointBorderWidth: 0.8, order: 1};
}

// ================= PANELS =================
extras.cA = {zero: true, names: cobaltHitGenes, place: ['t','t','t','t','t','r','t','t','t','t','lb','b']};
makeChart('cA', scatterSets(cobaltHitX, cobaltHitY, cobaltOther, cobaltCoreRows), {
  pad: {left: 0, top: 8, right: 13, bottom: 0},
  x: {min: -5.36, max: 3.34, step: 2, fmt: minusFmt, title: 'RB-TnSeq gene fitness in cobalt 0.32 mM', tpad: 6.4, size: 46},
  y: {min: -3.7, max: 15.79, step: 5, fmt: minusFmt, title: 'Dub-seq gene fitness in cobalt 0.75 mM', tpad: 11.4, size: 57}
});

extras.cB = {zero: true, names: nickelHitGenes, place: ['t','t','l','r','t','r','t','lb','r','t','t','t','r','t','r','b']};
makeChart('cB', scatterSets(nickelHitX, nickelHitY, nickelOther, nickelCoreRows), {
  pad: {left: 0, top: 22.7, right: 10, bottom: 0},
  x: {min: -4.36, max: 5.34, step: 2, fmt: minusFmt, title: 'RB-TnSeq gene fitness in nickel 1 mM', tpad: 4.1, size: 44.3},
  y: {min: -4.51, max: 9.47, step: 2, fmt: minusFmt, title: 'Dub-seq gene fitness in nickel 1.2 mM', tpad: 11.4, size: 57}
});

extras.cC = {zero: true, names: saltHitGenes, place: ['t','t','t','t','t','t','r','t','t','t']};
makeChart('cC', scatterSets(saltHitX, saltHitY, saltOther, saltCoreRows), {
  pad: {left: 0, top: 24, right: 10, bottom: 0},
  x: {min: -5.3, max: 3.33, step: 2, fmt: minusFmt, title: 'RB-TnSeq gene fitness in sodium chloride 750 mM', tpad: 8.1, size: 40.7},
  y: {min: -4.38, max: 6.47, step: 2, fmt: minusFmt, title: ['Dub-seq gene fitness in sodium', 'chloride 600 mM'], tpad: 1.4, size: 56}
});

extras.cD = {legend: cobaltLegend, legTop: 15};
makeChart('cD', [
  dotSet(timeD, pssACobaltA, '#000'), dotSet(timeD, pssACobaltB, '#000'), dotSet(timeD, pssACobaltC, '#000'),
  dotSet(timeD, yfgGCobaltA, BLUE), dotSet(timeD, yfgGCobaltB, BLUE),
  triSet(timeD, yfgGNoStressDA, BLUE_T), triSet(timeD, yfgGNoStressDB, BLUE_T), triSet(timeD, yfgGNoStressDC, BLUE_T),
  triSet(timeD, pssANoStressA, '#000'), triSet(timeD, pssANoStressB, '#000')
], {
  pad: {left: 0, top: 4.5, right: 6.7, bottom: 0},
  x: {min: -0.68, max: 23.2, step: 5, fmt: v => String(v), title: 'Time (h)', tpad: 6.4, size: 46},
  y: {min: 0.026, max: 1.11, step: 0.2, fmt: oneDec, title: 'Growth (OD600)', tpad: 11.4, size: 59.3}
});

extras.cE = {legend: nickelLegend, legTop: 11.6};
makeChart('cE', [
  dotSet(timeE, ybjENickelA, '#000'), dotSet(timeE, ybjENickelB, '#000'), dotSet(timeE, ybjENickelC, '#000'),
  dotSet(timeE, proYNickelA, BLUE), dotSet(timeE, proYNickelB, BLUE),
  triSet(timeE, proYNoStressA, BLUE_T), triSet(timeE, proYNoStressB, BLUE_T),
  triSet(timeE, ybjENoStressA, '#000'), triSet(timeE, ybjENoStressB, '#000')
], {
  pad: {left: 0, top: 22.7, right: 5.7, bottom: 0},
  x: {min: -0.62, max: 21.4, step: 5, fmt: v => String(v), title: 'Time (h)', tpad: 3.1, size: 45.7},
  y: {min: 0.052, max: 0.97, step: 0.2, fmt: oneDec, title: 'Growth (OD600)', tpad: 11.4, size: 59.3}
});

extras.cF = {legend: saltLegend, legTop: 14};
makeChart('cF', [
  dotSet(timeF, yfgGSaltA, '#000'), dotSet(timeF, yfgGSaltB, '#000'),
  dotSet(timeF, yfeXSaltA, BLUE), dotSet(timeF, yfeXSaltB, BLUE),
  triSet(timeF, yfeXNoStressA, BLUE_T), triSet(timeF, yfeXNoStressB, BLUE_T),
  triSet(timeF, yfgGNoStressFA, '#000'), triSet(timeF, yfgGNoStressFB, '#000')
], {
  pad: {left: 0, top: 18.3, right: 5, bottom: 0},
  x: {min: -0.62, max: 23.39, step: 5, fmt: v => String(v), title: 'Time (h)', tpad: 8.1, size: 41.3},
  y: {min: 0.052, max: 0.95, step: 0.2, fmt: oneDec, title: 'Growth (OD600)', tpad: 11.4, size: 60}
});
</script>
</body></html>
